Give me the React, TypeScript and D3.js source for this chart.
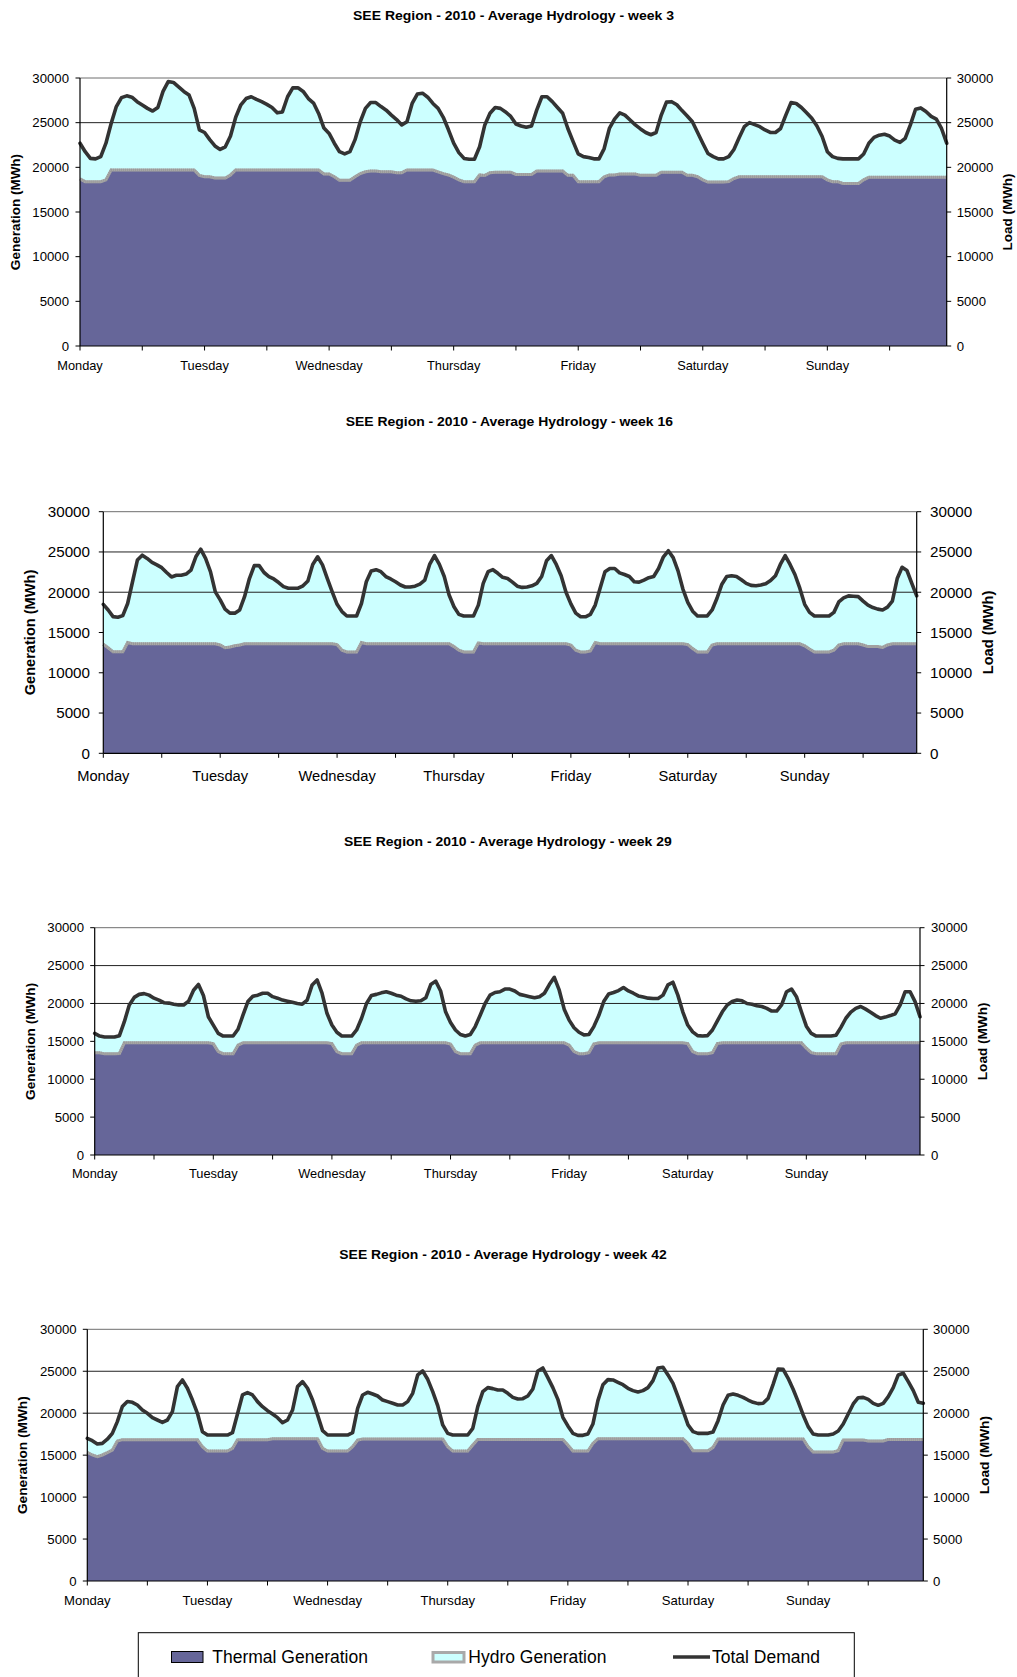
import React from 'react';
import * as d3 from 'd3';

// ---------- tick labels / categories ----------
const days = ['Monday', 'Tuesday', 'Wednesday', 'Thursday', 'Friday', 'Saturday', 'Sunday'];
const yTickValues = [0, 5000, 10000, 15000, 20000, 25000, 30000];
const chartTitles = [
  'SEE Region - 2010 - Average Hydrology - week 3',
  'SEE Region - 2010 - Average Hydrology - week 16',
  'SEE Region - 2010 - Average Hydrology - week 29',
  'SEE Region - 2010 - Average Hydrology - week 42',
];
const legendLabels = ['Thermal Generation', 'Hydro Generation', 'Total Demand'];

// ---------- week 3 (hourly, MWh) ----------
const demandWeek3 = [
  22700, 21750, 21000, 20950, 21200, 22700, 24900, 26800, 27800, 28000, 27850, 27350, 26980, 26600, 26300, 26700, 28500, 29600, 29500, 29000, 28500, 28100, 26600, 24200,
  23900, 23100, 22400, 22000, 22300, 23500, 25600, 27000, 27700, 27900, 27600, 27350, 27050, 26700, 26100, 26200, 27900, 28900, 28900, 28500, 27700, 27200, 26000, 24400,
  23800, 22700, 21750, 21500, 21750, 23100, 25100, 26600, 27250, 27250, 26800, 26400, 25850, 25350, 24750, 25100, 27150, 28200, 28300, 27850, 27150, 26600, 25600, 24200,
  22700, 21650, 21000, 20900, 20900, 22300, 24750, 26050, 26700, 26600, 26200, 25700, 24850, 24630, 24480, 24630, 26400, 27900, 27900, 27350, 26700, 26050, 24350, 22900,
  21500, 21200, 21100, 20950, 20950, 22100, 24350, 25400, 26100, 25850, 25300, 24750, 24300, 23900, 23650, 23900, 25850, 27300, 27350, 27000, 26350, 25750, 25100, 23900,
  22700, 21550, 21200, 20950, 20950, 21200, 22000, 23300, 24550, 25000, 24780, 24550, 24180, 23900, 23900, 24350, 25850, 27250, 27150, 26700, 26100, 25500, 24630, 23450,
  21750, 21200, 21000, 20950, 20950, 20950, 20950, 21500, 22700, 23350, 23600, 23700, 23500, 23050, 22800, 23250, 24750, 26500, 26650, 26250, 25700, 25400, 24350, 22700,
];
const thermalWeek3 = [
  18700, 18400, 18400, 18400, 18400, 18600, 19700, 19700, 19700, 19700, 19700, 19700, 19700, 19700, 19700, 19700, 19700, 19700, 19700, 19700, 19700, 19700, 19700, 19100,
  18950, 18950, 18800, 18800, 18800, 19150, 19700, 19700, 19700, 19700, 19700, 19700, 19700, 19700, 19700, 19700, 19700, 19700, 19700, 19700, 19700, 19700, 19700, 19250,
  19250, 18950, 18550, 18550, 18550, 18950, 19300, 19500, 19600, 19600, 19500, 19500, 19500, 19400, 19400, 19700, 19700, 19700, 19700, 19700, 19700, 19500, 19300, 19150,
  18900, 18600, 18400, 18400, 18400, 19150, 19100, 19400, 19450, 19450, 19450, 19450, 19200, 19200, 19200, 19200, 19600, 19600, 19600, 19600, 19600, 19600, 19100, 19100,
  18400, 18400, 18400, 18400, 18400, 18950, 19150, 19150, 19250, 19250, 19250, 19250, 19100, 19100, 19100, 19100, 19450, 19450, 19450, 19450, 19450, 19100, 19100, 18950,
  18600, 18350, 18350, 18350, 18350, 18400, 18750, 18950, 18950, 18950, 18950, 18950, 18950, 18950, 18950, 18950, 18950, 18950, 18950, 18950, 18950, 18950, 18950, 18950,
  18600, 18400, 18400, 18200, 18200, 18200, 18200, 18600, 18900, 18900, 18900, 18900, 18900, 18900, 18900, 18900, 18900, 18900, 18900, 18900, 18900, 18900, 18900, 18900,
];

// ---------- week 16 ----------
const demandWeek16 = [
  18500, 17800, 16970, 16900, 17100, 18600, 21300, 24000, 24600, 24200, 23700, 23400, 23050, 22450, 21900, 22100, 22100, 22250, 22750, 24400, 25350, 24200, 22550, 20050,
  19050, 17900, 17400, 17400, 17800, 19450, 21700, 23300, 23300, 22450, 21950, 21650, 21200, 20700, 20500, 20500, 20500, 20800, 21400, 23450, 24400, 23400, 21700, 20050,
  18500, 17600, 17050, 17050, 17050, 18600, 21300, 22650, 22800, 22550, 21950, 21650, 21300, 20900, 20650, 20650, 20750, 21000, 21500, 23450, 24550, 23450, 21950, 19650,
  18200, 17250, 17050, 17050, 17050, 18400, 21100, 22550, 22800, 22350, 21850, 21700, 21250, 20750, 20600, 20650, 20800, 21100, 21950, 23900, 24550, 23450, 22050, 20000,
  18550, 17400, 16950, 16950, 17250, 18400, 20500, 22550, 22950, 22950, 22400, 22200, 21950, 21300, 21250, 21500, 21800, 21950, 22950, 24400, 25150, 24300, 22650, 20400,
  18750, 17650, 17050, 17050, 17050, 17800, 19250, 21000, 21950, 22050, 21950, 21550, 21100, 20850, 20800, 20900, 21050, 21450, 22050, 23450, 24550, 23450, 22200, 20500,
  18500, 17500, 17050, 17050, 17050, 17050, 17500, 18800, 19300, 19550, 19500, 19450, 18900, 18400, 18100, 17900, 17800, 18150, 18900, 21700, 23100, 22700, 21100, 19550,
];
const thermalWeek16 = [
  13530, 13100, 12600, 12600, 12600, 13750, 13600, 13600, 13600, 13600, 13600, 13600, 13600, 13600, 13600, 13600, 13600, 13600, 13600, 13600, 13600, 13600, 13600, 13600,
  13450, 13100, 13200, 13350, 13450, 13600, 13600, 13600, 13600, 13600, 13600, 13600, 13600, 13600, 13600, 13600, 13600, 13600, 13600, 13600, 13600, 13600, 13600, 13600,
  13500, 12800, 12580, 12580, 12580, 13750, 13600, 13600, 13600, 13600, 13600, 13600, 13600, 13600, 13600, 13600, 13600, 13600, 13600, 13600, 13600, 13600, 13600, 13600,
  13250, 12800, 12580, 12580, 12580, 13700, 13600, 13600, 13600, 13600, 13600, 13600, 13600, 13600, 13600, 13600, 13600, 13600, 13600, 13600, 13600, 13600, 13600, 13600,
  13450, 12800, 12580, 12580, 12700, 13750, 13600, 13600, 13600, 13600, 13600, 13600, 13600, 13600, 13600, 13600, 13600, 13600, 13600, 13600, 13600, 13600, 13600, 13600,
  13500, 13000, 12580, 12580, 12580, 13450, 13600, 13600, 13600, 13600, 13600, 13600, 13600, 13600, 13600, 13600, 13600, 13600, 13600, 13600, 13600, 13600, 13600, 13600,
  13350, 12950, 12580, 12580, 12580, 12580, 12800, 13450, 13600, 13600, 13600, 13600, 13450, 13250, 13250, 13250, 13150, 13450, 13600, 13600, 13600, 13600, 13600, 13600,
];

// ---------- week 29 ----------
const demandWeek29 = [
  16050, 15700, 15570, 15570, 15570, 15750, 17600, 19800, 20800, 21200, 21300, 21100, 20700, 20450, 20100, 20050, 19900, 19800, 19800, 20300, 21750, 22500, 21050, 18250,
  17150, 16050, 15700, 15700, 15700, 16600, 18450, 20250, 20950, 21100, 21350, 21350, 20900, 20700, 20450, 20300, 20150, 20000, 19900, 20450, 22450, 23100, 21350, 18700,
  17150, 16200, 15700, 15700, 15700, 16500, 18050, 20000, 21050, 21200, 21400, 21550, 21350, 21100, 20950, 20600, 20350, 20300, 20350, 20750, 22500, 22950, 21650, 18900,
  17500, 16500, 15900, 15700, 15900, 16950, 18450, 20000, 21100, 21450, 21550, 21900, 21900, 21650, 21200, 21050, 20900, 20750, 20900, 21350, 22500, 23450, 21750, 19250,
  17800, 16800, 16200, 15850, 15900, 16950, 18400, 20250, 21250, 21450, 21700, 22100, 21650, 21350, 21000, 20850, 20700, 20650, 20650, 21100, 22450, 22800, 21100, 18900,
  17150, 16250, 15750, 15700, 15750, 16500, 17700, 18900, 19800, 20250, 20450, 20350, 20000, 19900, 19700, 19600, 19350, 19000, 19000, 19800, 21550, 21900, 20900, 18900,
  17000, 16050, 15700, 15700, 15700, 15700, 15800, 16850, 18050, 18850, 19350, 19600, 19250, 18850, 18400, 18050, 18200, 18400, 18650, 19800, 21550, 21550, 20250, 18250,
];
const thermalWeek29 = [
  13500, 13500, 13350, 13350, 13350, 13400, 14800, 14800, 14800, 14800, 14800, 14800, 14800, 14800, 14800, 14800, 14800, 14800, 14800, 14800, 14800, 14800, 14800, 14800,
  14700, 13650, 13370, 13370, 13370, 14500, 14800, 14800, 14800, 14800, 14800, 14800, 14800, 14800, 14800, 14800, 14800, 14800, 14800, 14800, 14800, 14800, 14800, 14800,
  14700, 13650, 13370, 13370, 13370, 14500, 14800, 14800, 14800, 14800, 14800, 14800, 14800, 14800, 14800, 14800, 14800, 14800, 14800, 14800, 14800, 14800, 14800, 14800,
  14650, 13650, 13370, 13370, 13370, 14500, 14800, 14800, 14800, 14800, 14800, 14800, 14800, 14800, 14800, 14800, 14800, 14800, 14800, 14800, 14800, 14800, 14800, 14800,
  14500, 13650, 13370, 13370, 13500, 14650, 14800, 14800, 14800, 14800, 14800, 14800, 14800, 14800, 14800, 14800, 14800, 14800, 14800, 14800, 14800, 14800, 14800, 14800,
  14700, 13650, 13370, 13370, 13370, 13500, 14700, 14800, 14800, 14800, 14800, 14800, 14800, 14800, 14800, 14800, 14800, 14800, 14800, 14800, 14800, 14800, 14800, 14800,
  14100, 13500, 13370, 13370, 13370, 13370, 13370, 14650, 14800, 14800, 14800, 14800, 14800, 14800, 14800, 14800, 14800, 14800, 14800, 14800, 14800, 14800, 14800, 14800,
];

// ---------- week 42 ----------
const demandWeek42 = [
  17000, 16730, 16330, 16400, 16900, 17600, 19000, 20800, 21400, 21300, 20980, 20380, 19990, 19470, 19190, 18910, 19190, 20180, 23170, 23960, 22970, 21570, 19990, 17800,
  17400, 17400, 17400, 17400, 17400, 17680, 19910, 22170, 22450, 22170, 21380, 20780, 20300, 19910, 19470, 18870, 19190, 20380, 23170, 23760, 22970, 21570, 19790, 17920,
  17400, 17400, 17400, 17400, 17400, 17680, 20580, 22170, 22490, 22290, 22050, 21570, 21380, 21180, 20980, 20980, 21380, 22370, 24560, 25030, 24040, 22570, 20900, 18600,
  17600, 17400, 17400, 17400, 17400, 18200, 20780, 22570, 23050, 22930, 22770, 22770, 22370, 21890, 21690, 21730, 22050, 22890, 25030, 25390, 24240, 23050, 21650, 19510,
  18480, 17600, 17360, 17360, 17520, 18710, 21500, 23400, 24000, 23960, 23680, 23400, 22970, 22690, 22530, 22690, 23050, 23880, 25390, 25470, 24560, 23560, 21970, 20300,
  18600, 17800, 17600, 17600, 17600, 17760, 19110, 20980, 22130, 22290, 22130, 21890, 21570, 21300, 21140, 21180, 21770, 23440, 25270, 25230, 24160, 22850, 21380, 19790,
  18400, 17520, 17400, 17400, 17400, 17520, 17880, 18710, 19910, 21100, 21850, 21890, 21650, 21180, 20940, 21180, 21970, 23050, 24560, 24760, 23760, 22690, 21300, 21180,
];
const thermalWeek42 = [
  15330, 15020, 14820, 15020, 15300, 15600, 16690, 16850, 16850, 16850, 16850, 16850, 16850, 16850, 16850, 16850, 16850, 16850, 16850, 16850, 16850, 16850, 16850, 16000,
  15490, 15490, 15490, 15490, 15490, 15800, 16850, 16850, 16850, 16850, 16850, 16850, 16850, 16950, 16950, 16950, 16950, 16950, 16950, 16950, 16950, 16950, 16950, 15800,
  15490, 15490, 15490, 15490, 15490, 16000, 16800, 16920, 16920, 16920, 16920, 16920, 16920, 16920, 16920, 16920, 16920, 16920, 16920, 16920, 16920, 16920, 16920, 16920,
  16000, 15490, 15490, 15490, 15490, 16200, 16880, 16880, 16880, 16880, 16880, 16880, 16880, 16880, 16880, 16880, 16880, 16880, 16880, 16880, 16880, 16880, 16880, 16880,
  16200, 15490, 15490, 15490, 15490, 16400, 16960, 16960, 16960, 16960, 16960, 16960, 16960, 16960, 16960, 16960, 16960, 16960, 16960, 16960, 16960, 16960, 16960, 16960,
  16400, 15530, 15530, 15530, 15530, 15930, 16920, 16920, 16920, 16920, 16920, 16920, 16920, 16920, 16920, 16920, 16920, 16920, 16920, 16920, 16920, 16920, 16920, 16920,
  16000, 15380, 15380, 15380, 15380, 15380, 15530, 16800, 16800, 16800, 16800, 16800, 16690, 16690, 16690, 16690, 16880, 16880, 16880, 16880, 16880, 16880, 16880, 16880,
];

const demandSeries = [demandWeek3, demandWeek16, demandWeek29, demandWeek42];
const thermalSeries = [thermalWeek3, thermalWeek16, thermalWeek29, thermalWeek42];
const gridLevels = [[25000, 30000], [20000, 25000, 30000], [20000, 25000, 30000], [20000, 25000, 30000]];

// ---------- layout (positions only) ----------
const layouts = [
  { left: 80, right: 946.7, top: 78, bottom: 346, titleY: 15.7, titleX0: 353, titleX1: 674, tickFs: 13.2, xFs: 12.8, xLabelY: 365.7, leftGap: 11, rightGap: 10, axisFs: 13.5, genX: 16.3, loadX: 1008.3 },
  { left: 103.3, right: 916.7, top: 511.7, bottom: 753.3, titleY: 421.7, titleX0: 345.7, titleX1: 673, tickFs: 15.2, xFs: 14.7, xLabelY: 775.7, leftGap: 13.3, rightGap: 13.3, axisFs: 14.6, genX: 31, loadX: 989 },
  { left: 94.7, right: 920, top: 927.7, bottom: 1155, titleY: 841.7, titleX0: 344, titleX1: 671.7, tickFs: 13.2, xFs: 12.8, xLabelY: 1174, leftGap: 10.7, rightGap: 11, axisFs: 13.6, genX: 31.2, loadX: 983 },
  { left: 87.3, right: 923.3, top: 1329.3, bottom: 1581, titleY: 1254.7, titleX0: 339.3, titleX1: 666.7, tickFs: 13.2, xFs: 13.1, xLabelY: 1600, leftGap: 10.6, rightGap: 9.7, axisFs: 13.7, genX: 23.7, loadX: 985 },
];

const THERMAL = '#666699';
const HYDRO = '#CCFFFF';
const HYDRO_BORDER = '#a9a9a9';
const DEMAND = '#333333';
const FONT = "Arial, 'Liberation Sans', sans-serif";

type L = typeof layouts[number];

function Chart({ demand, thermal, title, grid, L }: { demand: number[]; thermal: number[]; title: string; grid: number[]; L: L }) {
  const n = demand.length;
  const hydro = demand.map((d, i) => d - thermal[i]);
  const x = d3.scaleLinear().domain([0, n - 1]).range([L.left, L.right]);
  const y = d3.scaleLinear().domain([0, 30000]).range([L.bottom, L.top]);
  const idx = d3.range(n);

  const thermalArea = d3.area<number>().x(i => x(i)).y0(y(0)).y1(i => y(thermal[i]))(idx) || '';
  const hydroArea = d3.area<number>().x(i => x(i)).y0(i => y(thermal[i])).y1(i => y(thermal[i] + hydro[i]))(idx) || '';
  const hydroEdge = d3.line<number>().x(i => x(i)).y(i => y(thermal[i]))(idx) || '';
  const demandLine = d3.line<number>().x(i => x(i)).y(i => y(demand[i]))(idx) || '';
  const xTicks = d3.range(0, n, 12);
  const cy = (L.top + L.bottom) / 2;

  return (
    <g>
      <text x={L.titleX0} y={L.titleY + 13.5 * 0.35} fontSize={13.5} fontWeight="bold" textLength={L.titleX1 - L.titleX0} lengthAdjust="spacingAndGlyphs">{title}</text>
      <path d={hydroArea} fill={HYDRO} />
      <path d={thermalArea} fill={THERMAL} />
      <path d={hydroEdge} fill="none" stroke={HYDRO_BORDER} strokeWidth={3} />
      <path d={hydroEdge} fill="none" stroke="#8f8f8f" strokeWidth={3} strokeDasharray="1 1" opacity={0.6} />
      {grid.map(g => (
        <line key={g} x1={L.left} x2={L.right} y1={y(g)} y2={y(g)} stroke={g === 30000 ? '#6e6e6e' : '#222'} strokeWidth={1} />
      ))}
      <path d={demandLine} fill="none" stroke={DEMAND} strokeWidth={3.6} strokeLinejoin="round" strokeLinecap="round" />
      {/* axes */}
      <line x1={L.left} x2={L.left} y1={L.top} y2={L.bottom} stroke="#000" strokeWidth={1.2} />
      <line x1={L.right} x2={L.right} y1={L.top} y2={L.bottom} stroke="#000" strokeWidth={1.2} />
      <line x1={L.left} x2={L.right} y1={L.bottom} y2={L.bottom} stroke="#000" strokeWidth={1.2} />
      {yTickValues.map(v => (
        <g key={v}>
          <line x1={L.left - 4.5} x2={L.left} y1={y(v)} y2={y(v)} stroke="#000" />
          <line x1={L.right} x2={L.right + 4.5} y1={y(v)} y2={y(v)} stroke="#000" />
          <text x={L.left - L.leftGap} y={y(v) + L.tickFs * 0.35} fontSize={L.tickFs} textAnchor="end">{v}</text>
          <text x={L.right + L.rightGap} y={y(v) + L.tickFs * 0.35} fontSize={L.tickFs} textAnchor="start">{v}</text>
        </g>
      ))}
      {xTicks.map(t => (
        <line key={t} x1={x(t)} x2={x(t)} y1={L.bottom} y2={L.bottom + 4.5} stroke="#000" />
      ))}
      {days.map((d, k) => (
        <text key={d} x={x(k * 24)} y={L.xLabelY + L.xFs * 0.35} fontSize={L.xFs} textAnchor="middle">{d}</text>
      ))}
      <text transform={`translate(${L.genX},${cy}) rotate(-90)`} dy="0.26em" fontSize={L.axisFs} fontWeight="bold" textAnchor="middle">Generation (MWh)</text>
      <text transform={`translate(${L.loadX},${cy}) rotate(-90)`} dy="0.26em" fontSize={L.axisFs} fontWeight="bold" textAnchor="middle">Load (MWh)</text>
    </g>
  );
}

function Legend() {
  const baseY = 1662.7;
  return (
    <g>
      <rect x={138.3} y={1632.7} width={716} height={80} fill="#fff" stroke="#000" strokeWidth={1} />
      <rect x={171.5} y={1651.5} width={31.5} height={11} fill={THERMAL} stroke="#000" strokeWidth={1} />
      <text x={212.3} y={baseY} fontSize={17.5}>{legendLabels[0]}</text>
      <rect x={433} y={1652.5} width={31} height={9.5} fill={HYDRO} stroke={HYDRO_BORDER} strokeWidth={3} />
      <text x={468.3} y={baseY} fontSize={17.5}>{legendLabels[1]}</text>
      <line x1={673} x2={710} y1={1657} y2={1657} stroke={DEMAND} strokeWidth={3.6} />
      <text x={712} y={baseY} fontSize={17.5}>{legendLabels[2]}</text>
    </g>
  );
}

export default function App() {
  return (
    <svg width={1017} height={1677} style={{ position: 'absolute', left: 0, top: 0, background: '#fff' }} fontFamily={FONT}>
      <rect x={0} y={0} width={1017} height={1677} fill="#fff" />
      {layouts.map((L, k) => (
        <Chart key={k} demand={demandSeries[k]} thermal={thermalSeries[k]} title={chartTitles[k]} grid={gridLevels[k]} L={L} />
      ))}
      <Legend />
    </svg>
  );
}
